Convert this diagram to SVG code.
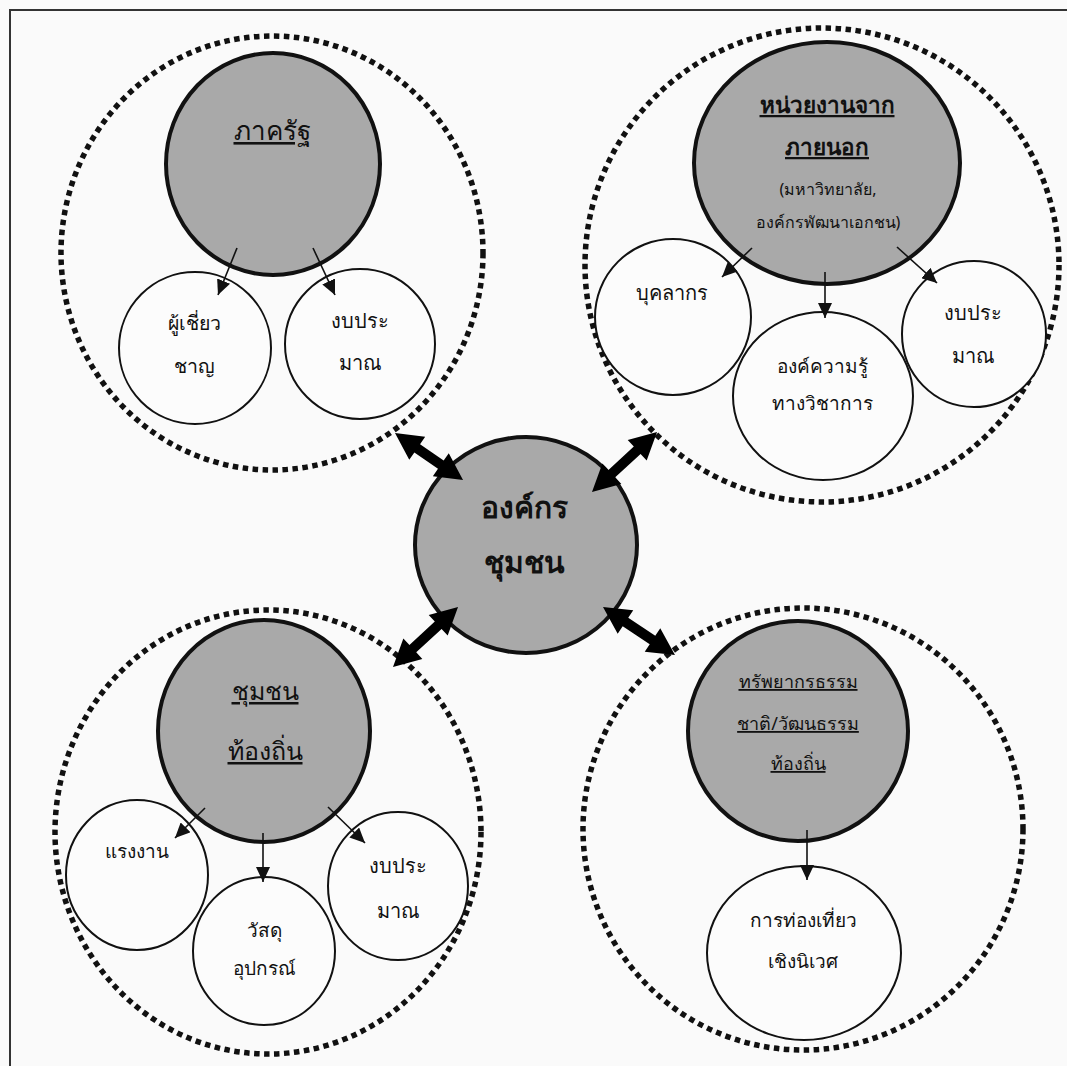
<svg xmlns="http://www.w3.org/2000/svg" width="1067" height="1066" viewBox="0 0 1067 1066">
<defs>
<style>
.bg{fill:#fafafa}
.frame{fill:none;stroke:#333;stroke-width:2}
.dot{fill:none;stroke:#111;stroke-width:5.5;stroke-dasharray:5.5 4.5}
.main{fill:#a9a9a9;stroke:#111;stroke-width:4}
.sub{fill:#fcfcfc;stroke:#111;stroke-width:2}
.t{font-family:"Noto Sans","DejaVu Sans","Liberation Sans",sans-serif;fill:#111;text-anchor:middle}
.u{text-decoration:underline}
.thin{stroke:#111;stroke-width:1.6;fill:none;marker-end:url(#ah)}
.big{fill:#000}
</style>
<marker id="ah" markerUnits="userSpaceOnUse" markerWidth="15" markerHeight="14" viewBox="0 0 15 14" refX="15" refY="7" orient="auto">
<path d="M0,0 L15,7 L0,14 z" fill="#111"/>
</marker>
</defs>
<rect class="bg" x="0" y="0" width="1067" height="1066"/>
<rect class="frame" x="10" y="10" width="1070" height="1070"/>

<g id="cluster-state">
<ellipse class="dot" cx="272" cy="253" rx="211" ry="217"/>
<g id="node-state">
<ellipse class="main" cx="273" cy="164" rx="107" ry="111"/>
<text class="t u" x="272" y="140" font-size="26">ภาครัฐ</text>
</g>
<g id="node-expert">
<circle class="sub" cx="195" cy="348" r="76"/>
<text class="t" x="194" y="330" font-size="19.5">ผู้เชี่ยว</text>
<text class="t" x="194" y="373" font-size="19.5">ชาญ</text>
</g>
<g id="node-budget1">
<circle class="sub" cx="360" cy="344" r="75"/>
<text class="t" x="360" y="328" font-size="20">งบประ</text>
<text class="t" x="360" y="370" font-size="20">มาณ</text>
</g>
</g>

<g id="cluster-external">
<ellipse class="dot" cx="822" cy="265" rx="237" ry="237"/>
<g id="node-external">
<ellipse class="main" cx="827" cy="163" rx="133" ry="121"/>
<text class="t u" x="827" y="113" font-size="22.5" font-weight="bold">หน่วยงานจาก</text>
<text class="t u" x="827" y="155" font-size="22.5" font-weight="bold">ภายนอก</text>
<text class="t" x="828" y="195" font-size="16">(มหาวิทยาลัย,</text>
<text class="t" x="828" y="228" font-size="16">องค์กรพัฒนาเอกชน)</text>
</g>
<g id="node-personnel">
<circle class="sub" cx="673" cy="317" r="78"/>
<text class="t" x="672" y="300" font-size="20">บุคลากร</text>
</g>
<g id="node-knowledge">
<ellipse class="sub" cx="823" cy="396" rx="90" ry="84"/>
<text class="t" x="822" y="373" font-size="19">องค์ความรู้</text>
<text class="t" x="822" y="410" font-size="19">ทางวิชาการ</text>
</g>
<g id="node-budget2">
<ellipse class="sub" cx="974" cy="334" rx="72" ry="73"/>
<text class="t" x="973" y="320" font-size="20">งบประ</text>
<text class="t" x="973" y="363" font-size="20">มาณ</text>
</g>
</g>

<g id="cluster-local">
<ellipse class="dot" cx="268" cy="832" rx="213" ry="222"/>
<g id="node-local">
<ellipse class="main" cx="264" cy="731" rx="106" ry="111"/>
<text class="t u" x="265" y="700" font-size="25">ชุมชน</text>
<text class="t u" x="265" y="760" font-size="25">ท้องถิ่น</text>
</g>
<g id="node-labor">
<ellipse class="sub" cx="137" cy="875" rx="71" ry="75"/>
<text class="t" x="137" y="858" font-size="19">แรงงาน</text>
</g>
<g id="node-material">
<ellipse class="sub" cx="264" cy="951" rx="71" ry="74"/>
<text class="t" x="264" y="937" font-size="19">วัสดุ</text>
<text class="t" x="264" y="975" font-size="19">อุปกรณ์</text>
</g>
<g id="node-budget3">
<ellipse class="sub" cx="398" cy="886" rx="70" ry="74"/>
<text class="t" x="398" y="873" font-size="20">งบประ</text>
<text class="t" x="398" y="918" font-size="20">มาณ</text>
</g>
</g>

<g id="cluster-nature">
<ellipse class="dot" cx="803" cy="829" rx="220" ry="221"/>
<g id="node-nature">
<circle class="main" cx="798" cy="731" r="110"/>
<text class="t u" x="798" y="688" font-size="18">ทรัพยากรธรรม</text>
<text class="t u" x="798" y="730" font-size="18">ชาติ/วัฒนธรรม</text>
<text class="t u" x="798" y="770" font-size="18">ท้องถิ่น</text>
</g>
<g id="node-ecotour">
<ellipse class="sub" cx="804" cy="953" rx="97" ry="87"/>
<text class="t" x="803" y="927" font-size="19">การท่องเที่ยว</text>
<text class="t" x="803" y="968" font-size="19">เชิงนิเวศ</text>
</g>
</g>

<g id="node-center">
<ellipse class="main" cx="526" cy="545" rx="111" ry="108"/>
<text class="t" x="524" y="518" font-size="30" font-weight="bold">องค์กร</text>
<text class="t" x="524" y="573" font-size="30" font-weight="bold">ชุมชน</text>
</g>

<g id="connectors">
<line class="thin" x1="237" y1="248" x2="218" y2="295"/>
<line class="thin" x1="313" y1="248" x2="335" y2="295"/>
<line class="thin" x1="752" y1="248" x2="722" y2="277"/>
<line class="thin" x1="825" y1="272" x2="825" y2="318"/>
<line class="thin" x1="897" y1="247" x2="937" y2="283"/>
<line class="thin" x1="205" y1="808" x2="175" y2="838"/>
<line class="thin" x1="263" y1="833" x2="263" y2="882"/>
<line class="thin" x1="328" y1="807" x2="365" y2="843"/>
<line class="thin" x1="807" y1="830" x2="807" y2="880"/>
<polygon class="big" transform="translate(395,433) rotate(34.65)" points="0,0 27,-14 27,-5 55.7,-5 55.7,-14 82.7,0 55.7,14 55.7,5 27,5 27,14"/>
<polygon class="big" transform="translate(592,492) rotate(-42.7)" points="0,0 27,-14 27,-5 61.5,-5 61.5,-14 88.5,0 61.5,14 61.5,5 27,5 27,14"/>
<polygon class="big" transform="translate(393,667) rotate(-42.7)" points="0,0 27,-14 27,-5 61.5,-5 61.5,-14 88.5,0 61.5,14 61.5,5 27,5 27,14"/>
<polygon class="big" transform="translate(603,607) rotate(33.7)" points="0,0 27,-14 27,-5 59.5,-5 59.5,-14 86.5,0 59.5,14 59.5,5 27,5 27,14"/>
</g>
</svg>
